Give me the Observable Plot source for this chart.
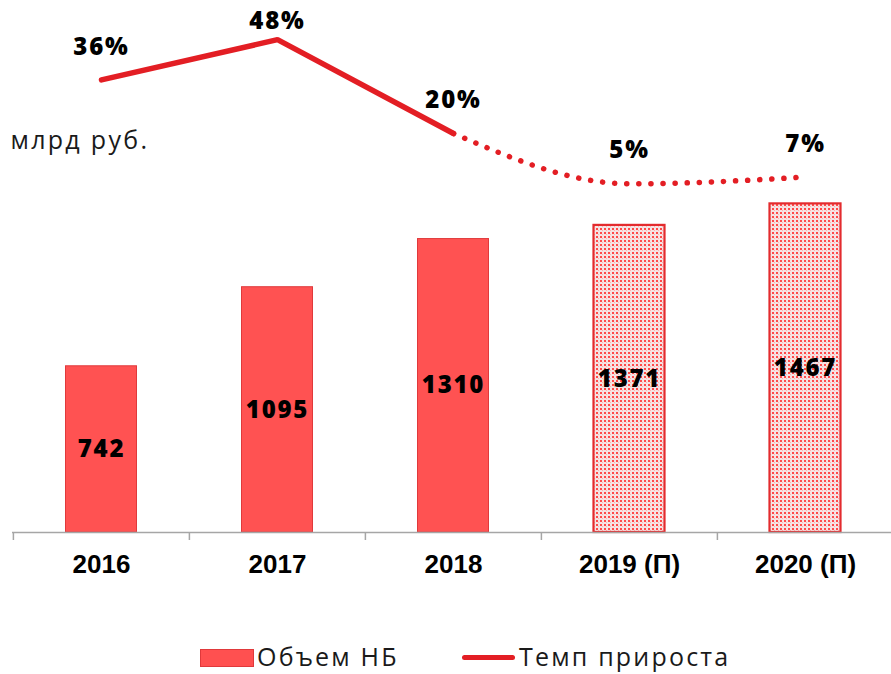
<!DOCTYPE html>
<html>
<head>
<meta charset="utf-8">
<script src="https://cdn.jsdelivr.net/npm/d3@7"></script>
<script src="https://cdn.jsdelivr.net/npm/@observablehq/plot@0.6"></script>
<style>
  html, body { margin: 0; padding: 0; background: #fff; }
  #wrap { position: relative; width: 891px; }
  #legend { position: relative; width: 891px; height: 54px; font-family: "Open Sans", sans-serif; font-size: 25px; letter-spacing: 2.2px; color: #1a1a1a; }
  #legend .it { position: absolute; line-height: normal; top: 19px; white-space: nowrap; }
  g[font-family="Open Sans"] text { letter-spacing: 1.8px; }
  g[font-family="Open Sans, sans-serif"] text { letter-spacing: 2.3px; }
</style>
</head>
<body>
<div id="wrap">
  <div id="chart"></div>
  <div id="legend">
    <div style="position:absolute;left:200px;top:29px;width:52px;height:16px;background:#ff5050;border:1px solid #e0393b"></div>
    <span class="it" style="left:257px">Объем НБ</span>
    <div style="position:absolute;left:462px;top:35px;width:53px;height:5px;border-radius:3px;background:#e31e24"></div>
    <span class="it" style="left:519px">Темп прироста</span>
  </div>
</div>
<script>
const categories = ["2016", "2017", "2018", "2019 (П)", "2020 (П)"];
const volumes = [742, 1095, 1310, 1371, 1467];
const rates = [36, 48, 20, 5, 7];
const projected = [false, false, false, true, true];
const unitLabel = "млрд руб.";

const data = categories.map((cat, i) => ({cat, volume: volumes[i], rate: rates[i], projected: projected[i]}));

// secondary (percent) axis mapped onto the volume axis
const rateY = d3.scaleLinear().domain([0, 100]).range([1482, 2978]);

const red = "#e31e24";
const lblStyle = {fontFamily: "Open Sans", fontWeight: 800, fontSize: 24, fill: "#000"};

const chart = Plot.plot({
  width: 891,
  height: 620,
  marginTop: 0,
  marginBottom: 88,
  marginLeft: 12,
  marginRight: 0,
  x: {domain: categories, range: [12, 893], padding: 0, axis: null},
  y: {domain: [0, 2375], axis: null},
  marks: [
    Plot.barY(data.filter(d => !d.projected), {x: "cat", y: "volume", fill: "#ff5252", stroke: "#e0393b", strokeWidth: 1, insetLeft: 52.5, insetRight: 52.5}),
    Plot.barY(data.filter(d => d.projected), {x: "cat", y: "volume", fill: "url(#nb-dots)", stroke: "#e32b2e", strokeWidth: 2.2, insetLeft: 52.5, insetRight: 52.5}),
    Plot.ruleY([0], {stroke: "#a6a6a6", strokeWidth: 1.5}),
    Plot.ruleX(categories, {x: d => d, y1: 0, y2: 0, insetBottom: -8, dx: -88.1, stroke: "#a6a6a6", strokeWidth: 1.5}),
    Plot.text(categories, {x: d => d, y: 0, dy: 32, text: d => d, fontFamily: "Liberation Sans", fontWeight: 700, fontSize: 26, fill: "#000"}),
    Plot.text(data, {x: "cat", y: d => d.volume / 2, text: d => String(d.volume), ...lblStyle}),
    Plot.line(data.slice(0, 3), {x: "cat", y: d => rateY(d.rate), stroke: red, strokeWidth: 5.5, strokeLinecap: "round", strokeLinejoin: "miter"}),
    Plot.line(data.slice(2), {x: "cat", y: d => rateY(d.rate), stroke: red, strokeWidth: 5.5, strokeLinecap: "round", strokeDasharray: "0.1 12", curve: "monotone-x"}),
    Plot.text(data.filter(d => d.cat !== "2017"), {x: "cat", y: d => rateY(d.rate), dy: -33, text: d => d.rate + "%", ...lblStyle}),
    Plot.text(data.filter(d => d.cat === "2017"), {x: "cat", y: d => rateY(d.rate), dy: -18, text: d => d.rate + "%", ...lblStyle}),
    Plot.text([unitLabel], {frameAnchor: "top-left", text: d => d, dx: -2, dy: 131, textAnchor: "start", fontFamily: "Open Sans, sans-serif", fontSize: 25, fill: "#1a1a1a"})
  ]
});

const defs = d3.select(chart).insert("defs", ":first-child");
const pat = defs.append("pattern").attr("id", "nb-dots").attr("patternUnits", "userSpaceOnUse").attr("width", 4).attr("height", 4);
pat.append("rect").attr("width", 4).attr("height", 4).attr("fill", "#f5e3e3");
pat.append("rect").attr("width", 2).attr("height", 2).attr("fill", "#ff4a4a");
pat.append("rect").attr("x", 2).attr("y", 2).attr("width", 1).attr("height", 1).attr("fill", "#ffb0b0");

document.getElementById("chart").appendChild(chart);
</script>
</body>
</html>
